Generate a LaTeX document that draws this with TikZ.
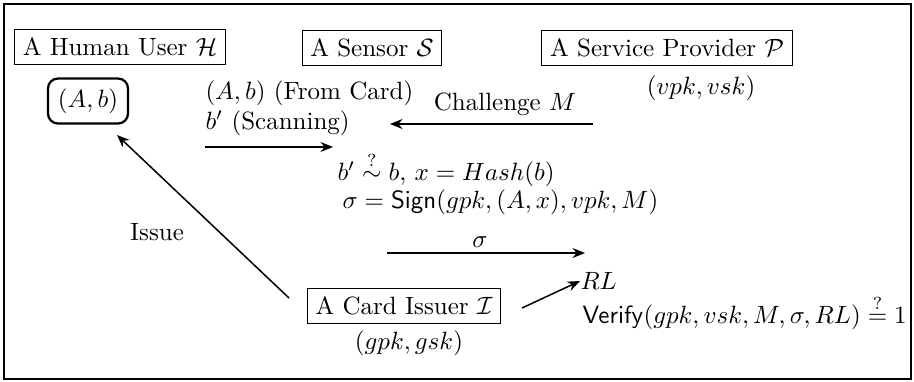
\documentclass[tikz,border=0pt]{standalone}
\usetikzlibrary{arrows.meta}
\begin{document}
\begin{tikzpicture}[x=0.4pt,y=-0.4pt,
  party/.style={draw,line width=0.4pt,inner sep=3.3pt},
  plain/.style={inner sep=0pt},
  msg/.style={line width=0.6pt,-{Stealth[length=5pt,width=4pt]}}]
\useasboundingbox (0,0) rectangle (914,381);
\draw[line width=0.5pt] (4,4) rectangle (911,379);
\node[party] (H) at (120,47) {A Human User $\mathcal{H}$};
\node[draw,rounded corners=4pt,line width=0.9pt,inner sep=4pt] (Ab) at (88,101) {$(A,b)$};
\node[party] (S) at (372,48) {A Sensor $\mathcal{S}$};
\node[party] (P) at (667,48) {A Service Provider $\mathcal{P}$};
\node[plain] (vpk) at (701,88) {$(vpk,vsk)$};
\node[plain,anchor=west] (card) at (205,93) {$(A,b)$ (From Card)};
\node[plain,anchor=west] (scan) at (205,123) {$b'$ (Scanning)};
\coordinate (a1s) at (205,147);
\coordinate (a1e) at (333,147);
\draw[msg] (a1s) -- (a1e);
\coordinate (chs) at (593,124);
\coordinate (che) at (390,124);
\draw[msg] (chs) -- (che);
\node[plain] (chl) at (505,104) {Challenge $M$};
\node[plain,anchor=west] (hash) at (337,169) {$b' \stackrel{?}{\sim} b$, $x = Hash(b)$};
\node[plain,anchor=west] (sign) at (342,202) {$\sigma = \mathsf{Sign}(gpk,(A,x),vpk,M)$};
\coordinate (sgs) at (387,253);
\coordinate (sge) at (585,253);
\draw[msg] (sgs) -- (sge);
\node[plain] (sgl) at (480,242) {$\sigma$};
\node[plain,anchor=west] (RL) at (580,281) {$RL$};
\node[plain,anchor=west] (ver) at (582,312) {$\mathsf{Verify}(gpk,vsk,M,\sigma,RL) \stackrel{?}{=} 1$};
\node[party] (I) at (404,306) {A Card Issuer $\mathcal{I}$};
\node[plain] (gpk) at (409,343) {$(gpk,gsk)$};
\coordinate (iss) at (289,298);
\coordinate (ise) at (117,135);
\draw[msg] (iss) -- (ise);
\node[plain] (issue) at (157,232) {Issue};
\coordinate (rls) at (522,308);
\draw[msg] (rls) -- (RL.west);
\end{tikzpicture}
\end{document}
